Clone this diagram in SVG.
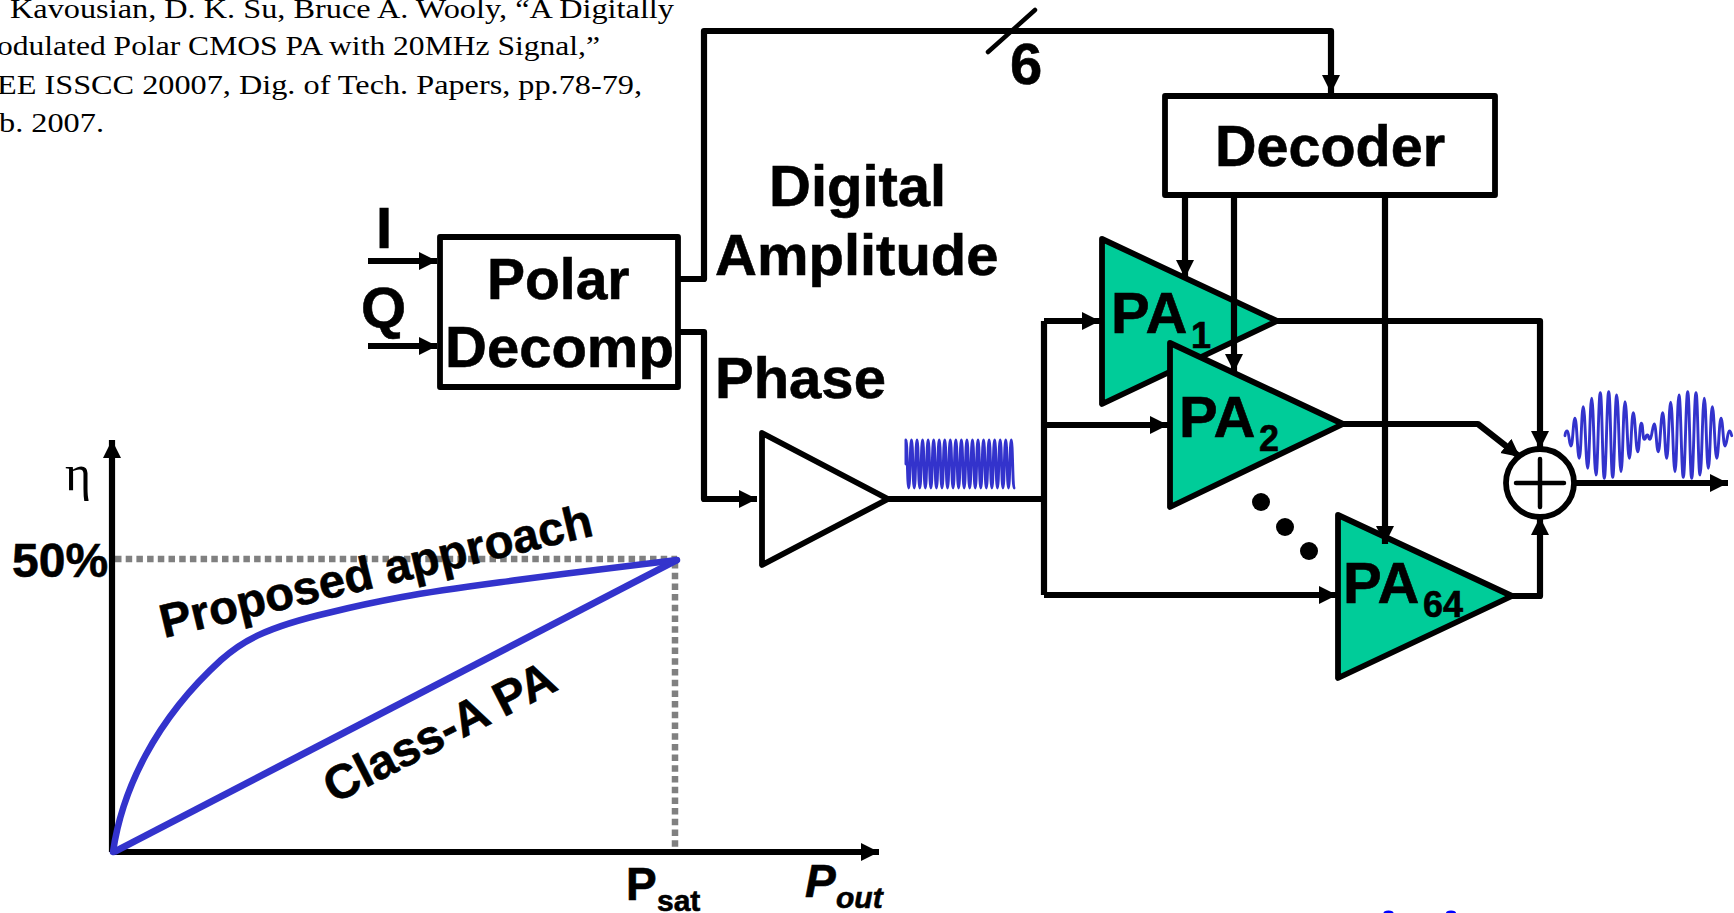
<svg xmlns="http://www.w3.org/2000/svg" width="1734" height="913" viewBox="0 0 1734 913">
<style>
text{font-family:"Liberation Sans",Arial,sans-serif;font-weight:700;fill:#000;stroke:#000;stroke-width:.6}
.l{font-size:58px}
.s{font-size:36px}
.ref{font-family:"Liberation Serif","Times New Roman",serif;font-weight:400;font-size:28px;stroke:none}
.w{fill:none;stroke:#000;stroke-width:6.2;stroke-linejoin:round}
.n{fill:none;stroke:#000;stroke-width:4.5}
.b{fill:#fff;stroke:#000;stroke-width:5.8;stroke-linejoin:round}
.pa{fill:#00CC99;stroke:#000;stroke-width:5.8;stroke-linejoin:round}
.wave{fill:none;stroke:#3333CC;stroke-width:2.9;stroke-linejoin:round;stroke-linecap:round}
.d{fill:none;stroke:#808080;stroke-width:6.5;stroke-dasharray:6.5 4.2}
.c{fill:none;stroke:#3333CC}
</style>
<defs>
<marker id="a" markerUnits="userSpaceOnUse" markerWidth="20" markerHeight="20" refX="18" refY="9" orient="auto"><path d="M0 0L18 9L0 18Z" fill="#000"/></marker>
</defs>
<g id="reference">
<text class="ref" x="10" y="18" textLength="664" lengthAdjust="spacingAndGlyphs">Kavousian, D. K. Su, Bruce A. Wooly, “A Digitally</text>
<text class="ref" x="-3" y="55" textLength="603" lengthAdjust="spacingAndGlyphs">odulated Polar CMOS PA with 20MHz Signal,”</text>
<text class="ref" x="-3" y="94" textLength="645" lengthAdjust="spacingAndGlyphs">EE ISSCC 20007, Dig. of Tech. Papers, pp.78-79,</text>
<text class="ref" x="-1" y="132" textLength="105" lengthAdjust="spacingAndGlyphs">b. 2007.</text>
</g>
<g id="io-labels">
<text class="l" x="376" y="248">I</text>
<text class="l" x="361" y="328">Q</text>
<text class="l" x="769" y="206">Digital</text>
<text class="l" x="715" y="275">Amplitude</text>
<text class="l" x="715" y="398">Phase</text>
<text class="l" x="1010" y="84">6</text>
</g>
<g id="connectors">
<path class="w" d="M368 261H437" marker-end="url(#a)"/>
<path class="w" d="M368 346H437" marker-end="url(#a)"/>
<path class="w" d="M678 279H704V31H1331V93" marker-end="url(#a)"/>
<path class="n" d="M988 52L1035 10" stroke-linecap="round"/>
<path class="w" d="M678 332H704V499H757" marker-end="url(#a)"/>
<path class="w" d="M888 499H1044"/>
<path class="w" d="M1044 321V595"/>
<path class="w" d="M1044 321H1100" marker-end="url(#a)"/>
<path class="w" d="M1044 425H1168" marker-end="url(#a)"/>
<path class="w" d="M1044 595H1337" marker-end="url(#a)"/>
</g>
<g id="polar-decomp">
<rect class="b" x="440" y="237" width="238" height="150"/>
<text x="487" y="299" style="font-size:57px">Polar</text>
<text class="l" x="445" y="367">Decomp</text>
</g>
<g id="decoder">
<rect class="b" x="1165" y="96" width="330" height="99"/>
<text x="1215" y="166" style="font-size:57.5px">Decoder</text>
</g>
<g id="phase-amp">
<path class="b" d="M762 433L888 499L762 565Z"/>
</g>
<g id="pa1">
<path class="pa" d="M1102 239L1277 321L1102 404Z"/>
<text class="l" x="1111" y="333">PA</text>
<text class="s" x="1191" y="348">1</text>
</g>
<g id="pa2">
<path class="pa" d="M1170 343L1343 424L1170 507Z"/>
<text class="l" x="1179" y="437">PA</text>
<text class="s" x="1259" y="451">2</text>
</g>
<g id="pa64">
<path class="pa" d="M1338 515L1512 596L1338 678Z"/>
<text class="l" x="1343" y="603">PA</text>
<text class="s" x="1423" y="617">64</text>
</g>
<g id="connectors-2">
<path class="w" d="M1185 195V278" marker-end="url(#a)"/>
<path class="w" d="M1234 195V372" marker-end="url(#a)"/>
<path class="w" d="M1385 195V544" marker-end="url(#a)"/>
<path class="w" d="M1277 321H1540V449" marker-end="url(#a)"/>
<path class="w" d="M1343 424H1478L1520 457" marker-end="url(#a)"/>
<path class="w" d="M1512 596H1540V517" marker-end="url(#a)"/>
<path class="w" d="M1574 483H1728" marker-end="url(#a)"/>
</g>
<g id="dots">
<circle cx="1261" cy="502" r="9"/>
<circle cx="1285" cy="527" r="9"/>
<circle cx="1309" cy="551" r="9"/>
</g>
<g id="summer">
<circle class="b" cx="1540" cy="483" r="34"/>
<path class="n" d="M1516 483H1564M1540 459V507" stroke-linecap="round"/>
</g>
<g id="waves">
<path class="wave" transform="translate(9 0) scale(.99 1)" d="M906 464V440c1.4 0 1.4 48 2.8 48s1.4-48 2.8-48c1.4 0 1.4 48 2.8 48s1.4-48 2.8-48c1.4 0 1.4 48 2.8 48s1.4-48 2.8-48c1.4 0 1.4 48 2.8 48s1.4-48 2.8-48c1.4 0 1.4 48 2.8 48s1.4-48 2.8-48c1.4 0 1.4 48 2.8 48s1.4-48 2.8-48c1.4 0 1.4 48 2.8 48s1.4-48 2.8-48c1.4 0 1.4 48 2.8 48s1.4-48 2.8-48c1.4 0 1.4 48 2.8 48s1.4-48 2.8-48c1.4 0 1.4 48 2.8 48s1.4-48 2.8-48c1.4 0 1.4 48 2.8 48s1.4-48 2.8-48c1.4 0 1.4 48 2.8 48s1.4-48 2.8-48c1.4 0 1.4 48 2.8 48s1.4-48 2.8-48c1.4 0 1.4 48 2.8 48s1.4-48 2.8-48c1.4 0 1.4 48 2.8 48s1.4-48 2.8-48c1.4 0 1.4 48 2.8 48s1.4-48 2.8-48c1.4 0 1.4 48 2.8 48s1.4-48 2.8-48c1.4 0 1.4 48 2.8 48s1.4-48 2.8-48c1.4 0 1.4 48 2.8 48s1.4-48 2.8-48c1.4 0 1.4 48 2.8 48"/>
<path class="wave" d="M1565 435.7S1565.5 431 1567.3 431S1569.2 446 1571 446S1573.2 418.3 1575 418.3S1577.5 458.3 1579.3 458.3S1581.5 406.7 1583.3 406.7S1585.9 468.3 1587.7 468.3S1589.9 398.3 1591.7 398.3S1594.2 475 1596 475S1598.5 392.7 1600.3 392.7S1602.5 478.3 1604.3 478.3S1606.9 391.7 1608.7 391.7S1610.9 477.3 1612.7 477.3S1614.9 395 1616.7 395S1619.2 471.7 1621 471.7S1623.2 401.7 1625 401.7S1627.5 458.3 1629.3 458.3S1631.5 412.7 1633.3 412.7S1635.9 451.7 1637.7 451.7S1639.5 423.3 1641.3 423.3S1642.5 439.3 1644.3 439.3S1645.5 435 1647.3 435S1648.2 439.3 1650 439.3S1652.5 424 1654.3 424S1656.5 451.7 1658.3 451.7S1660.9 412.7 1662.7 412.7S1664.9 458.3 1666.7 458.3S1668.9 402.3 1670.7 402.3S1673.2 471.7 1675 471.7S1677.2 395 1679 395S1681.5 477.3 1683.3 477.3S1685.9 391.7 1687.7 391.7S1689.9 478.3 1691.7 478.3S1694.2 392.7 1696 392.7S1698.2 475 1700 475S1702.5 398.3 1704.3 398.3S1706.5 468.3 1708.3 468.3S1710.5 406.7 1712.3 406.7S1714.9 458.3 1716.7 458.3S1719.2 418.3 1721 418.3S1723.2 446 1725 446S1727.5 431 1729.3 431S1731.5 435.7 1731.7 435.7"/>
</g>
<g id="chart">
<path class="d" d="M115 559H677"/>
<path class="d" d="M675 562V852"/>
<path class="w" d="M112 852V440" marker-end="url(#a)"/>
<path class="w" d="M112 852H879" marker-end="url(#a)"/>
<path class="c" stroke-width="7" d="M114 852L677 560"/>
<path class="c" stroke-width="6.5" stroke-linecap="round" d="M113 852C122 790 155 720 221 660C240 643 262 628 332 612C352 607 375 602 402 597C440 590 480 585 517 580C570 573 620 567 677 560"/>
<text x="65" y="490" style="font-family:'Liberation Serif',serif;font-weight:400;font-size:50px;stroke:none">η</text>
<text x="12" y="577" style="font-size:48px">50%</text>
<text x="626" y="900" style="font-size:46px">P</text>
<text x="657" y="911" style="font-size:30px">sat</text>
<text x="805" y="897" style="font-size:46px;font-style:italic">P</text>
<text x="836" y="908" style="font-size:30px;font-style:italic">out</text>
<text transform="translate(164 638) rotate(-13.4)" style="font-size:47.2px">Proposed approach</text>
<text transform="translate(334 804) rotate(-27)" style="font-size:48px">Class-A PA</text>
</g>
<g id="edge-marks" fill="#0000FF">
<ellipse cx="1388.5" cy="913" rx="5" ry="2.5"/>
<ellipse cx="1451" cy="913" rx="5" ry="2.5"/>
</g>
</svg>
